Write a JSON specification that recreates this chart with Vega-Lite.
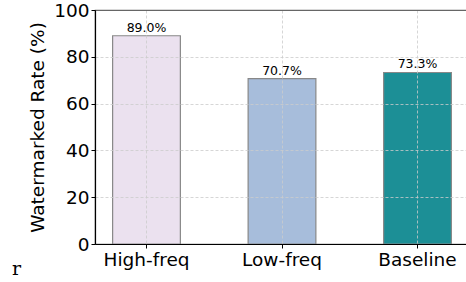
{
  "$schema": "https://vega.github.io/schema/vega-lite/v6.json",
  "autosize": "none",
  "width": 374,
  "height": 234,
  "padding": {"left": 95, "top": 10, "right": 0, "bottom": 38},
  "background": "white",
  "config": {
    "font": "DejaVu Sans",
    "view": {"stroke": "#666666", "strokeWidth": 1.2}
  },
  "title": {
    "text": "r",
    "orient": "bottom",
    "anchor": "start",
    "frame": "group",
    "font": "DejaVu Serif",
    "fontSize": 19,
    "fontWeight": "normal",
    "color": "black",
    "dx": -83,
    "offset": -9
  },
  "data": {
    "values": [
      {"method": "High-freq", "rate": 89.0, "label": "89.0%"},
      {"method": "Low-freq", "rate": 70.7, "label": "70.7%"},
      {"method": "Baseline", "rate": 73.3, "label": "73.3%"}
    ]
  },
  "encoding": {
    "x": {
      "field": "method",
      "type": "nominal",
      "sort": null,
      "scale": {"paddingInner": 0.5, "paddingOuter": 0.13},
      "axis": {
        "title": null,
        "labelAngle": 0,
        "labelFontSize": 18.5,
        "labelColor": "black",
        "labelPadding": 2,
        "domainColor": "black",
        "domainWidth": 1.2,
        "tickColor": "black",
        "tickSize": 4,
        "grid": true,
        "gridColor": "#cccccc",
        "gridDash": [3, 2],
        "gridWidth": 0.8,
        "zindex": 1
      }
    },
    "y": {
      "field": "rate",
      "type": "quantitative",
      "scale": {"domain": [0, 100], "nice": false},
      "axis": {
        "title": "Watermarked Rate (%)",
        "titleFontSize": 18.5,
        "titleFontWeight": "normal",
        "titleColor": "black",
        "titlePadding": 6,
        "values": [0, 20, 40, 60, 80, 100],
        "labelFontSize": 18.5,
        "labelColor": "black",
        "labelPadding": 2,
        "domainColor": "black",
        "domainWidth": 1.2,
        "tickColor": "black",
        "tickSize": 4,
        "grid": true,
        "gridColor": {"condition": {"test": "datum.value === 100", "value": "#666666"}, "value": "#cccccc"},
        "gridDash": {"condition": {"test": "datum.value === 100", "value": []}, "value": [3, 2]},
        "gridWidth": {"condition": {"test": "datum.value === 100", "value": 1.2}, "value": 0.8},
        "zindex": 1
      }
    }
  },
  "layer": [
    {
      "mark": {"type": "bar", "stroke": "#888888", "strokeWidth": 1.2},
      "encoding": {
        "color": {
          "field": "method",
          "type": "nominal",
          "sort": null,
          "scale": {"domain": ["High-freq", "Low-freq", "Baseline"], "range": ["#ebe1ef", "#a7bddb", "#1c8f96"]},
          "legend": null
        }
      }
    },
    {
      "mark": {"type": "text", "dy": -8, "fontSize": 12.5, "color": "black"},
      "encoding": {"text": {"field": "label"}}
    }
  ]
}
